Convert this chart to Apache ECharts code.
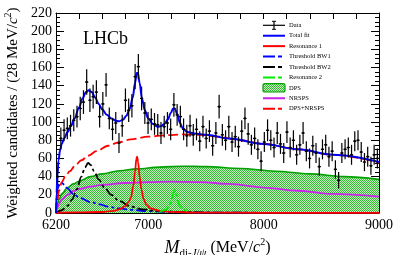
<!DOCTYPE html>
<html><head><meta charset="utf-8">
<script src="https://cdn.jsdelivr.net/npm/echarts@6/dist/echarts.min.js"></script>
<style>html,body{margin:0;padding:0;background:#fff}#c{width:399px;height:255px}</style>
</head><body><div id="c"></div>
<script>
// ---------- DATA ----------
const binCenters = [
 6214,6242,6270,6298,6326,6354,6382,6410,6438,6466,
 6494,6522,6550,6578,6606,6634,6662,6690,6718,6746,
 6774,6802,6830,6858,6886,6914,6942,6970,6998,7026,
 7054,7082,7110,7138,7166,7194,7222,7250,7278,7306,
 7334,7362,7390,7418,7446,7474,7502,7530,7558,7586,
 7614,7642,7670,7698,7726,7754,7782,7810,7838,7866,
 7894,7922,7950,7978,8006,8034,8062,8090,8118,8146,
 8174,8202,8230,8258,8286,8314,8342,8370,8398,8426,
 8454,8482,8510,8538,8566,8594,8622,8650,8678,8706,
 8734,8762,8790,8818,8846,8874,8902,8930,8958,8986];
const dataValues = [
 40,82,91,93,96,102,106,115,122,144,
 124,128,133,106,120,141,104,92,99,77,
 96,124,113,118,150,161,126,110,99,103,
 98,97,88,95,99,92,119,108,106,92,
 85,96,86,92,79,95,82,90,74,88,
 117,86,80,95,78,84,73,90,104,87,
 75,82,70,57,78,91,80,72,88,76,
 66,89,72,80,64,75,88,68,60,74,
 66,51,70,75,62,68,48,36,66,70,
 72,64,79,80,67,56,62,52,64,60];
const dataErrors = [
 9,12,12,12,12,12,12,13,13,14,
 13,13,13,12,13,13,12,12,12,11,
 12,13,13,13,14,14,13,12,12,12,
 12,12,12,12,12,12,13,12,12,12,
 12,12,12,12,11,12,11,12,11,12,
 13,12,11,12,11,12,11,12,12,12,
 11,12,11,11,11,12,11,11,12,11,
 11,12,11,11,11,11,12,11,11,11,
 11,10,11,11,11,11,10,9,11,11,
 11,11,11,11,11,10,11,10,11,11];
const binHalfWidth = 14;

const totalFit = [[6200,0],[6205,22],[6212,42],[6222,58],[6235,69],[6250,76],[6270,82],[6300,89],[6330,96],[6360,104],[6400,116],[6430,126],[6460,133],[6485,135],[6510,133],[6540,127],[6570,120],[6600,114],[6640,108],[6680,104],[6720,101.5],[6750,101],[6780,102.5],[6810,107],[6840,115],[6865,127],[6885,143],[6900,154],[6910,154],[6925,143],[6945,126],[6970,113],[7000,104],[7040,98],[7080,95],[7110,95.5],[7140,98],[7170,103],[7195,110],[7215,115],[7230,115],[7250,109],[7275,99],[7300,93],[7340,89],[7400,87.5],[7500,86],[7700,82],[8000,76],[8300,70],[8600,64],[9000,56]];
const resonance1 = [[6200,0.3],[6400,0.6],[6600,1.1],[6700,2.4],[6750,4],[6800,7.5],[6830,12],[6850,17],[6870,30],[6885,45],[6897,60],[6903,62],[6912,56],[6925,40],[6940,26],[6960,15],[6985,9],[7020,5],[7100,2.4],[7200,1.2],[7400,0.5],[8000,0.2],[9000,0.1]];
const thresholdBW1 = [[6200,0],[6205,15],[6215,27],[6230,32],[6250,33],[6275,31],[6300,27],[6350,21],[6400,17],[6500,12],[6580,9.5],[6650,7],[6750,5],[6850,3.5],[7000,2],[7200,1],[7500,0.5],[8000,0.2],[9000,0.1]];
const thresholdBW2 = [[6200,0],[6250,3],[6300,8],[6340,15],[6380,26],[6420,40],[6450,50],[6478,55],[6500,53],[6530,46],[6570,37],[6620,28],[6680,20],[6750,13],[6850,7],[6950,4],[7100,2],[7300,1],[7600,0.5],[8000,0.2],[9000,0.1]];
const resonance2 = [[7100,1.5],[7150,3.5],[7180,7.5],[7200,13],[7215,21],[7228,25],[7240,21],[7255,13],[7275,7.5],[7305,3.5],[7350,1.8]];
const dps = [[6200,0],[6210,9],[6225,15],[6250,21],[6300,28],[6350,32],[6400,35],[6500,40],[6600,43],[6750,46.5],[6900,48.5],[7100,50.5],[7300,51.5],[7500,51],[7800,49],[8100,46],[8400,43],[8700,40],[9000,37]];
const nrsps = [[6200,0],[6210,5],[6225,10],[6250,15],[6300,20],[6350,24],[6400,26.5],[6500,29],[6600,31],[6800,33],[7000,34],[7200,34.5],[7450,34],[7700,32],[8000,28],[8300,24.5],[8600,21],[9000,18]];
const dpsNrsps = [[6200,0],[6210,12],[6225,24],[6250,34],[6280,40],[6320,46],[6370,53],[6420,58],[6480,63],[6550,68],[6650,74],[6750,78],[6850,81],[7000,84],[7150,85.5],[7300,86.5],[7450,86],[7600,84],[7800,80],[8000,76],[8300,70],[8600,64],[9000,55.5]];

const xLabelValues = [6200,7000,8000,9000];
const legendNames = ['Data','Total fit','Resonance 1','Threshold BW1','Threshold BW2','Resonance 2','DPS','NRSPS','DPS+NRSPS'];

// ---------- STYLE ----------
const FONT = '"Liberation Serif","DejaVu Serif",serif';
const C_BLUE='#0000ff', C_RED='#ff0000', C_MAG='#cc22ee', C_GREEN='#00ee00', C_DPS='#00a000';

const pat = document.createElement('canvas');
pat.width = 2; pat.height = 2;
const pctx = pat.getContext('2d');
pctx.fillStyle = '#c6f0c0'; pctx.fillRect(0,0,2,2);
pctx.fillStyle = '#33bb33'; pctx.fillRect(0,0,1,1); pctx.fillRect(1,1,1,1);
const patternFill = {image: pat, repeat: 'repeat'};

const chart = echarts.init(document.getElementById('c'), null, {renderer:'canvas'});

function lineSeries(name, data, color, width, type, z) {
  return {name, type:'line', data, xAxisIndex:0, yAxisIndex:0, showSymbol:false, symbol:'none',
    smooth:0.35, smoothMonotone:'x', z: z||2, silent:true, animation:false,
    lineStyle:{color, width, type: type||'solid'}};
}

const axisCommonX = {type:'value', min:6200, max:9000, interval:200,
  axisLine:{show:true, onZero:false, lineStyle:{color:'#000', width:1}},
  axisTick:{show:true, inside:true, length:6, lineStyle:{color:'#000', width:1}},
  splitLine:{show:false}};
const axisCommonY = {type:'value', min:0, max:220, interval:20,
  axisLine:{show:true, onZero:false, lineStyle:{color:'#000', width:1}},
  axisTick:{show:true, inside:true, length:8, lineStyle:{color:'#000', width:1}},
  minorTick:{show:true, splitNumber:4, length:4, lineStyle:{color:'#000', width:1}},
  splitLine:{show:false}, minorSplitLine:{show:false}};

// graphic legend
const legendGraphics = [];
const lgX0 = 263, lgX1 = 285, lgTextX = 289, lgY0 = 25.3, lgDy = 10.42;
const lgStyles = [
  null,
  {stroke:C_BLUE, lineWidth:2},
  {stroke:C_RED, lineWidth:2},
  {stroke:C_BLUE, lineWidth:2, lineDash:[12,3,4,3]},
  {stroke:'#000', lineWidth:2, lineDash:[12,3,4,3]},
  {stroke:C_GREEN, lineWidth:2, lineDash:[12,3,4,3]},
  null,
  {stroke:C_MAG, lineWidth:2},
  {stroke:C_RED, lineWidth:2, lineDash:[12,3,4,3]}
];
legendNames.forEach((nm, i) => {
  const y = lgY0 + i*lgDy;
  if (i === 0) {
    const xm = (lgX0+lgX1)/2;
    legendGraphics.push({type:'line', shape:{x1:lgX0,y1:y,x2:lgX1,y2:y}, style:{stroke:'#000', lineWidth:1.2}});
    legendGraphics.push({type:'line', shape:{x1:xm,y1:y-4,x2:xm,y2:y+4}, style:{stroke:'#000', lineWidth:1.2}});
    legendGraphics.push({type:'line', shape:{x1:xm-2,y1:y-4,x2:xm+2,y2:y-4}, style:{stroke:'#000', lineWidth:1}});
    legendGraphics.push({type:'line', shape:{x1:xm-2,y1:y+4,x2:xm+2,y2:y+4}, style:{stroke:'#000', lineWidth:1}});
  } else if (i === 6) {
    legendGraphics.push({type:'rect', shape:{x:lgX0, y:y-4.2, width:lgX1-lgX0, height:8.4, r:2}, style:{fill:patternFill, stroke:C_DPS, lineWidth:1.2}});
  } else {
    legendGraphics.push({type:'line', shape:{x1:lgX0,y1:y,x2:lgX1,y2:y}, style:lgStyles[i]});
  }
  legendGraphics.push({type:'text', x:lgTextX, y:y, style:{text:nm, font:'6.5px '+FONT, fill:'#000', verticalAlign:'middle', align:'left'}});
});

const option = {
  animation:false,
  backgroundColor:'#fff',
  grid:{left:56, right:20, top:13, bottom:42, outerBoundsMode:'none', containLabel:false},
  xAxis:[
    Object.assign({}, axisCommonX, {position:'bottom',
      axisLabel:{show:true, margin:5, color:'#000', fontFamily:FONT, fontSize:14,
        formatter:(v)=> xLabelValues.indexOf(v) >= 0 ? String(v) : ''},
      name:'{m|M}{sub|di-}{subi|J}{sub|/}{subi|ψ}{t| (MeV/}{ti|c}{sup|2}{t|)}',
      nameLocation:'middle', nameGap:19,
      nameTextStyle:{color:'#000', fontFamily:FONT, verticalAlign:'top',
        rich:{
          m:{fontSize:18, fontStyle:'italic', fontFamily:FONT, color:'#000', lineHeight:22, verticalAlign:'middle'},
          sub:{fontSize:11, fontFamily:FONT, color:'#000', lineHeight:12, verticalAlign:'bottom'},
          subi:{fontSize:11, fontStyle:'italic', fontFamily:FONT, color:'#000', lineHeight:12, verticalAlign:'bottom'},
          t:{fontSize:16, fontFamily:FONT, color:'#000', lineHeight:22, verticalAlign:'middle'},
          ti:{fontSize:16, fontStyle:'italic', fontFamily:FONT, color:'#000', lineHeight:22, verticalAlign:'middle'},
          sup:{fontSize:10, fontFamily:FONT, color:'#000', lineHeight:15, verticalAlign:'top'}
        }}}),
    Object.assign({}, axisCommonX, {position:'top', axisLabel:{show:false}})
  ],
  yAxis:[
    Object.assign({}, axisCommonY, {position:'left',
      axisLabel:{show:true, margin:4, color:'#000', fontFamily:FONT, fontSize:14},
      name:'{t|Weighted candidates / (28 MeV/}{ti|c}{sup|2}{t|)}',
      nameLocation:'middle', nameGap:33, nameRotate:90,
      nameTextStyle:{color:'#000', fontFamily:FONT,
        rich:{
          t:{fontSize:15, fontFamily:FONT, color:'#000', lineHeight:18, verticalAlign:'middle'},
          ti:{fontSize:15, fontStyle:'italic', fontFamily:FONT, color:'#000', lineHeight:18, verticalAlign:'middle'},
          sup:{fontSize:10, fontFamily:FONT, color:'#000', lineHeight:13, verticalAlign:'top'}
        }}}),
    Object.assign({}, axisCommonY, {position:'right', axisLabel:{show:false}})
  ],
  series:[
    Object.assign(lineSeries('DPS', dps, C_DPS, 1.6, 'solid', 1), {areaStyle:{color:patternFill, opacity:1, origin:'start'}}),
    lineSeries('NRSPS', nrsps, C_MAG, 1.8, 'solid', 2),
    lineSeries('Threshold BW1', thresholdBW1, C_BLUE, 1.8, [10,3,3,3], 3),
    lineSeries('Threshold BW2', thresholdBW2, '#000', 1.8, [10,3,3,3], 3),
    lineSeries('Resonance 1', resonance1, C_RED, 1.8, 'solid', 3),
    lineSeries('Resonance 2', resonance2, C_GREEN, 1.8, [10,3,3,3], 3),
    lineSeries('DPS+NRSPS', dpsNrsps, C_RED, 1.8, [10,4], 4),
    lineSeries('Total fit', totalFit, C_BLUE, 2, 'solid', 5),
    {name:'Data', type:'custom', z:6, silent:true, animation:false,
      data: binCenters.map((x,i)=>[x, dataValues[i], dataErrors[i]]),
      encode:{x:0, y:1},
      renderItem:(params, api)=>{
        const x = api.value(0), y = api.value(1), e = api.value(2);
        const c = api.coord([x, y]);
        const t = api.coord([x, y+e]);
        const b = api.coord([x, Math.max(0, y-e)]);
        const l = api.coord([x-binHalfWidth, y]);
        const r = api.coord([x+binHalfWidth, y]);
        return {type:'group', children:[
          {type:'line', shape:{x1:c[0],y1:t[1],x2:c[0],y2:b[1]}, style:{stroke:'#000', lineWidth:1.2}},
          {type:'line', shape:{x1:l[0],y1:c[1],x2:r[0],y2:c[1]}, style:{stroke:'#000', lineWidth:1.2}},
          {type:'circle', shape:{cx:c[0],cy:c[1],r:1.1}, style:{fill:'#000'}}
        ]};
      }}
  ],
  graphic:[
    {type:'text', x:83, y:39, style:{text:'LHCb', font:'18px '+FONT, fill:'#000', verticalAlign:'middle', align:'left'}},
    ...legendGraphics
  ]
};
chart.setOption(option);
</script></body></html>
